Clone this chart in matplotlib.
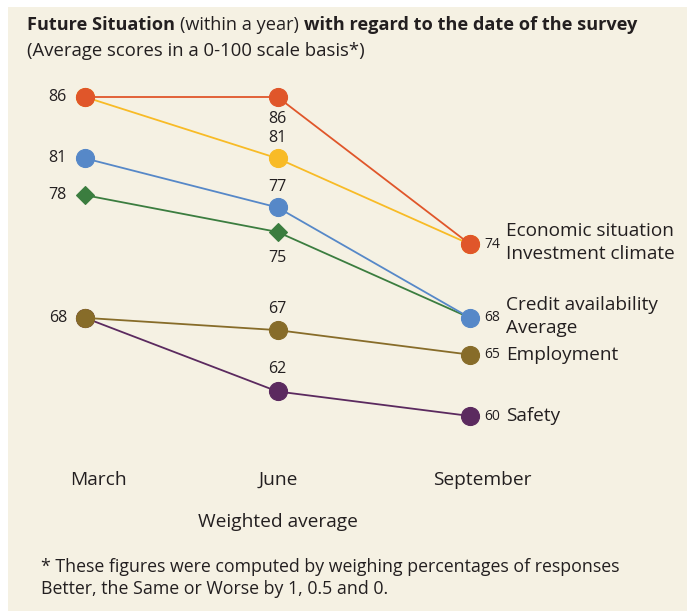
import matplotlib
matplotlib.use("Agg")
import matplotlib.pyplot as plt
from matplotlib.patches import Rectangle

months = ["March", "June", "September"]
series_names = ["Economic situation", "Investment climate", "Credit availability",
                "Average", "Employment", "Safety"]
economic = [86, 86, 74]
investment = [86, 81, 74]
credit = [81, 77, 68]
average = [78, 75, 68]
employment = [68, 67, 65]
safety = [68, 62, 60]

colors = {"Economic situation": "#e0562a", "Investment climate": "#f8bb26",
          "Credit availability": "#5688c8", "Average": "#3b7d3f",
          "Employment": "#876c29", "Safety": "#5b2a5f"}
markers = {"Average": "D"}

data = {"Economic situation": economic, "Investment climate": investment,
        "Credit availability": credit, "Average": average,
        "Employment": employment, "Safety": safety}

W, H = 687, 616
fig = plt.figure(figsize=(W / 100, H / 100), dpi=100)
fig.patch.set_facecolor("white")
fig.add_artist(Rectangle((8 / W, 5 / H), 1 - 8 / W, 1 - 12 / H,
                         transform=fig.transFigure, facecolor="#f5f1e3",
                         edgecolor="none", zorder=0))

plt.rcParams["font.family"] = ["Open Sans", "DejaVu Sans"]
txt = "#231f20"

ax = fig.add_axes([85 / W, (H - 416) / H, 385 / W, 319 / H])
ax.set_xlim(0, 2)
ax.set_ylim(60, 86)
ax.axis("off")

draw_order = ["Safety", "Employment", "Average", "Credit availability",
              "Investment climate", "Economic situation"]
for name in draw_order:
    vals = data[name]
    m = markers.get(name, "o")
    ms = 9.4 if m == "D" else 13
    ax.plot(range(3), vals, color=colors[name], lw=1.3, marker=m, ms=ms,
            mew=0.8, clip_on=False, zorder=3)

fs = 11.5
# March labels
for v in sorted(set(economic[:1] + credit[:1] + average[:1] + employment[:1])):
    ax.annotate(str(v), (0, v), xytext=(-13, 0), textcoords="offset points",
                ha="right", va="center", fontsize=fs, color=txt)

# June labels
june_labels = [(economic[1], -16), (investment[1], 15), (credit[1], 15),
               (average[1], -19), (employment[1], 15), (safety[1], 16)]
for v, off in june_labels:
    ax.annotate(str(v), (1, v), xytext=(0, off), textcoords="offset points",
                ha="center", va="center", fontsize=fs, color=txt)

# September labels
sep_groups = [(economic[2], ["Economic situation", "Investment climate"]),
              (credit[2], ["Credit availability", "Average"]),
              (employment[2], ["Employment"]),
              (safety[2], ["Safety"])]
for v, names in sep_groups:
    ax.annotate(str(v), (2, v), xytext=(10, 0), textcoords="offset points",
                ha="left", va="center", fontsize=10, color=txt)
    if len(names) == 2:
        ax.annotate(names[0], (2, v), xytext=(26, 9.5), textcoords="offset points",
                    ha="left", va="center", fontsize=13.7, color=txt)
        ax.annotate(names[1], (2, v), xytext=(26, -7), textcoords="offset points",
                    ha="left", va="center", fontsize=13.7, color=txt)
    else:
        ax.annotate(names[0], (2, v), xytext=(26, 0), textcoords="offset points",
                    ha="left", va="center", fontsize=13.7, color=txt)

# month labels
month_dx = [10, 0.5, 9]
for i, mth in enumerate(months):
    ax.annotate(mth, (i, 60), xytext=(month_dx[i], -46), textcoords="offset points",
                ha="center", va="center", fontsize=13.8, color=txt,
                annotation_clip=False)

fig.text(278 / W, 1 - 522 / H, "Weighted average", ha="center", va="center",
         fontsize=13.8, color=txt)

# title
tfs = 13.1
t1 = fig.text(27 / W, 1 - 25 / H, "Future Situation", ha="left", va="center",
              fontsize=tfs, fontweight="bold", color=txt)
fig.canvas.draw()
r = fig.canvas.get_renderer()
bb = t1.get_window_extent(r)
t2 = fig.text(bb.x1 / W + 5 / W, 1 - 25 / H, "(within a year)", ha="left",
              va="center", fontsize=tfs, color=txt)
bb2 = t2.get_window_extent(r)
fig.text(bb2.x1 / W + 5 / W, 1 - 25 / H, "with regard to the date of the survey",
         ha="left", va="center", fontsize=tfs, fontweight="bold", color=txt)
fig.text(27 / W, 1 - 51 / H, "(Average scores in a 0-100 scale basis*)",
         ha="left", va="center", fontsize=13.3, color=txt)

fig.text(41 / W, 1 - 567 / H,
         "* These figures were computed by weighing percentages of responses",
         ha="left", va="center", fontsize=12.8, color=txt)
fig.text(41 / W, 1 - 589 / H, "Better, the Same or Worse by 1, 0.5 and 0.",
         ha="left", va="center", fontsize=12.8, color=txt)

fig.savefig("out.png", dpi=100, facecolor=fig.get_facecolor())
